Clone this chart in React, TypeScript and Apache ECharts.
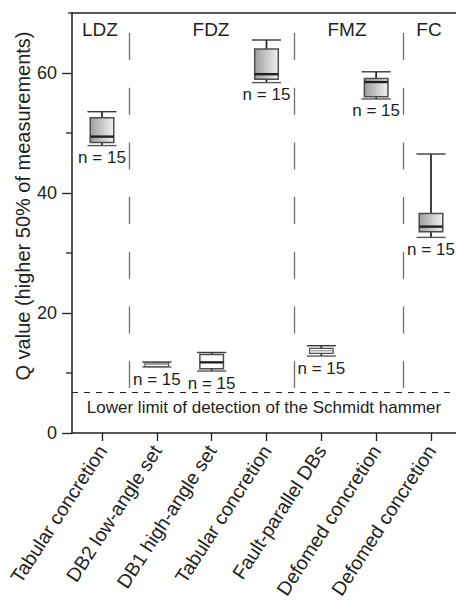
import React, { useEffect, useRef } from "react";
import * as echarts from "echarts";

const categories = [
  "Tabular concretion",
  "DB2 low-angle set",
  "DB1 high-angle set",
  "Tabular concretion",
  "Fault-parallel DBs",
  "Defomed concretion",
  "Defomed concretion",
];
const whiskerLow = [47.9, 11.0, 10.33, 58.4, 12.83, 55.67, 32.6];
const quartile1 = [48.4, 11.08, 10.72, 58.95, 13.28, 56.05, 33.55];
const medians = [49.4, 11.45, 11.78, 59.8, 13.7, 58.5, 34.4];
const quartile3 = [52.55, 11.67, 13.08, 64.0, 14.1, 59.1, 36.6];
const whiskerHigh = [53.55, 11.83, 13.42, 65.5, 14.55, 60.2, 46.5];
const sampleSizes = [15, 15, 15, 15, 15, 15, 15];
const shaded = [1, 0, 0, 1, 0, 1, 1];
const zones = ["LDZ", "FDZ", "FMZ", "FC"];
const zoneBoundaries = [0.5, 3.5, 5.5];
const detectionLimit = 6.8;
const yMajorTicks = [0, 20, 40, 60];
const yMinorTicks = [10, 30, 50];

const INK = "#231f20";
const FONT = "Liberation Sans";

export default function App() {
  const ref = useRef<HTMLDivElement>(null);
  useEffect(() => {
    if (!ref.current) return;
    const chart = echarts.init(ref.current, null, { renderer: "svg" });
    const boxData = categories.map((_, i) => [
      i,
      whiskerLow[i],
      quartile1[i],
      medians[i],
      quartile3[i],
      whiskerHigh[i],
      shaded[i],
      sampleSizes[i],
    ]);
    const xIdx = categories.map((_, i) => i);
    const zoneX = [100, 211, 347, 429];
    const option: any = {
      animation: false,
      grid: { left: 72, right: 0, top: 13, bottom: 175 },
      xAxis: [
        {
          type: "value",
          min: -0.547,
          max: 6.456,
          splitLine: { show: false },
          axisLine: { show: true, onZero: false, lineStyle: { color: INK, width: 1.5 } },
          axisTick: { show: true, customValues: xIdx, length: 8, lineStyle: { color: INK, width: 1.3 } },
          axisLabel: {
            customValues: xIdx,
            formatter: (v: number) => categories[Math.round(v)] ?? "",
            rotate: 57,
            margin: 14,
            fontSize: 19.5,
            fontFamily: FONT,
            color: INK,
          },
        },
        {
          type: "value",
          position: "top",
          min: -0.547,
          max: 6.456,
          splitLine: { show: false },
          axisLine: { show: true, onZero: false, lineStyle: { color: INK, width: 1.5 } },
          axisTick: { show: false },
          axisLabel: { show: false },
        },
      ],
      yAxis: [
        {
          type: "value",
          min: 0,
          max: 70,
          position: "left",
          splitLine: { show: false },
          axisLine: { show: true, onZero: false, lineStyle: { color: INK, width: 1.5 } },
          axisTick: { show: true, customValues: yMajorTicks, length: 10, lineStyle: { color: INK, width: 1.3 } },
          axisLabel: {
            customValues: yMajorTicks,
            margin: 15,
            fontSize: 18,
            fontFamily: FONT,
            color: INK,
          },
        },
      ],
      series: [
        {
          type: "line",
          data: [],
          xAxisIndex: 0,
          yAxisIndex: 0,
          silent: true,
          markLine: {
            silent: true,
            symbol: ["none", "none"],
            label: { show: false },
            data: [
              ...zoneBoundaries.map((b) => [
                { coord: [b, 66.67], lineStyle: { color: "#6d6e70", width: 1.3, type: [27, 27.7] } },
                { coord: [b, 7.5] },
              ]),
              { yAxis: detectionLimit, lineStyle: { color: INK, width: 1.2, type: [6, 6] } },
            ],
          },
        },
        {
          type: "custom",
          xAxisIndex: 0,
          yAxisIndex: 0,
          data: boxData,
          encode: { x: 0, y: [1, 2, 3, 4, 5] },
          renderItem: (_params: any, api: any) => {
            const i = api.value(0);
            const cx = api.coord([i, api.value(1)])[0];
            const yLo = api.coord([i, api.value(1)])[1];
            const yQ1 = api.coord([i, api.value(2)])[1];
            const yMed = api.coord([i, api.value(3)])[1];
            const yQ3 = api.coord([i, api.value(4)])[1];
            const yHi = api.coord([i, api.value(5)])[1];
            const isShaded = api.value(6) === 1;
            const n = api.value(7);
            const unit = api.size([1, 0])[0];
            const bw = unit * 0.43;
            const cw = unit * 0.53;
            const fill = isShaded
              ? new echarts.graphic.LinearGradient(0, 0, 1, 0, [
                  { offset: 0, color: "#9d9d9d" },
                  { offset: 1, color: "#f2f2f2" },
                ])
              : "#ffffff";
            const boxH = yQ1 - yQ3;
            const medW = boxH < 6 ? 1 : 2.4;
            return {
              type: "group",
              children: [
                { type: "line", shape: { x1: cx, y1: yHi, x2: cx, y2: yQ3 }, style: { stroke: INK, lineWidth: 1.7 } },
                { type: "line", shape: { x1: cx, y1: yQ1, x2: cx, y2: yLo }, style: { stroke: INK, lineWidth: 1.7 } },
                {
                  type: "rect",
                  shape: { x: cx - bw / 2, y: yQ3, width: bw, height: boxH },
                  style: { fill, stroke: "#4d4d4f", lineWidth: boxH < 6 ? 1.2 : 1.5 },
                },
                {
                  type: "line",
                  shape: { x1: cx - bw / 2, y1: yMed, x2: cx + bw / 2, y2: yMed },
                  style: { stroke: boxH < 6 ? "#808080" : INK, lineWidth: medW },
                },
                {
                  type: "line",
                  shape: { x1: cx - cw / 2, y1: yHi, x2: cx + cw / 2, y2: yHi },
                  style: { stroke: "#3a3a3c", lineWidth: 1.4 },
                },
                {
                  type: "line",
                  shape: { x1: cx - cw / 2, y1: yLo, x2: cx + cw / 2, y2: yLo },
                  style: { stroke: "#58595b", lineWidth: 1.4 },
                },
                {
                  type: "text",
                  x: cx,
                  y: yLo + 12,
                  style: {
                    text: "n = " + n,
                    fontSize: 17,
                    fontFamily: FONT,
                    fill: INK,
                    align: "center",
                    verticalAlign: "middle",
                  },
                },
              ],
            };
          },
        },
      ],
    };
    chart.setOption(option);

    const axisX = chart.convertToPixel({ xAxisIndex: 0 }, -0.547) as number;
    const minorTickLines = [...yMinorTicks.map((v) => ({ v, len: 6 })), { v: 70, len: 4 }].map(({ v, len }) => {
      const py = chart.convertToPixel({ yAxisIndex: 0 }, v) as number;
      return {
        type: "line",
        shape: { x1: axisX - len, y1: py, x2: axisX, y2: py },
        style: { stroke: INK, lineWidth: 1.3 },
      };
    });

    chart.setOption({
      graphic: [
        ...zones.map((z, i) => ({
          type: "text",
          x: zoneX[i],
          y: 29,
          style: {
            text: z,
            fontSize: 19,
            fontFamily: FONT,
            fill: INK,
            align: "center",
            verticalAlign: "middle",
          },
        })),
        {
          type: "text",
          x: 264,
          y: 407,
          style: {
            text: "Lower limit of detection of the Schmidt hammer",
            fontSize: 17,
            fontFamily: FONT,
            fill: INK,
            align: "center",
            verticalAlign: "middle",
          },
        },
        {
          type: "text",
          x: 23,
          y: 206,
          rotation: Math.PI / 2,
          style: {
            text: "Q value (higher 50% of measurements)",
            fontSize: 20,
            fontFamily: FONT,
            fill: INK,
            align: "center",
            verticalAlign: "middle",
          },
        },
        ...minorTickLines,
      ],
    });
    return () => chart.dispose();
  }, []);
  return <div ref={ref} style={{ width: 456, height: 608, position: "absolute", left: 0, top: 0 }} />;
}
